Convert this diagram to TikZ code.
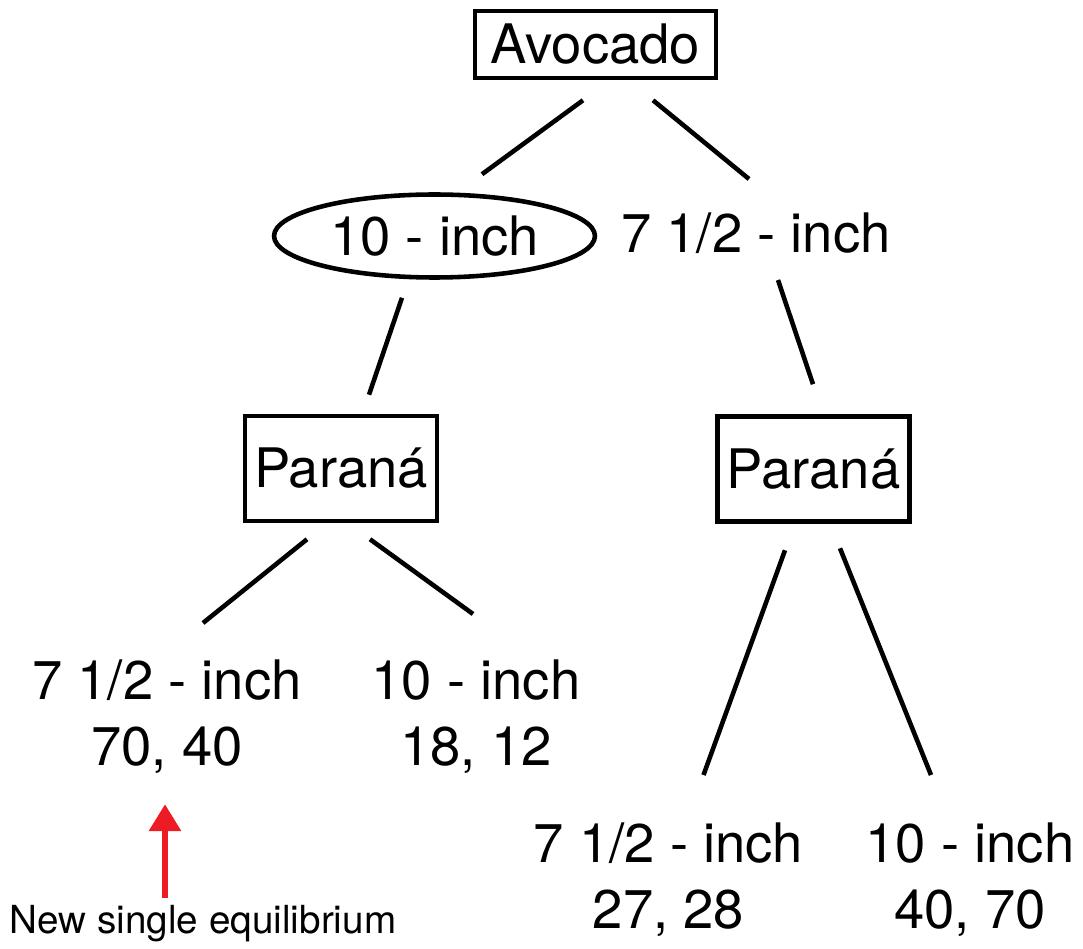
\documentclass[tikz,border=0pt]{standalone}
\usepackage{fontspec}
\setmainfont{TeX Gyre Heros}
\usetikzlibrary{shapes.geometric,arrows.meta,calc}
\definecolor{eqred}{RGB}{237,28,36}

\begin{document}
\begin{tikzpicture}[
            x=0.02cm, y=-0.02cm,
            font=\fontsize{31}{38}\selectfont,
            player/.style ={draw, line width=2.6pt, inner sep=0pt,
                            minimum width=3.84cm, minimum height=2.1cm},
            choice/.style ={ellipse, draw, line width=2.6pt, inner sep=0pt,
                            minimum width=6.42cm, minimum height=1.66cm},
            leaf/.style   ={align=center, inner sep=0pt, anchor=north},
            branch/.style ={line width=2.6pt},
            eqarrow/.style={-{Triangle[width=0.62cm,length=0.54cm]}, eqred, line width=0.13cm}
        ]
            \useasboundingbox (0,0) rectangle (1083,949);

            %-----------------  Primer jugador  --------------------
            \node[player, minimum width=4.82cm, minimum height=1.34cm] (avo) at (595.5,44.5) {Avocado};
            \node[choice] (ten) at (434.5,236) {10 - inch};
            \node[anchor=base, inner sep=0pt] (sevenR) at (756,253) {7 1/2 - inch};

            \draw[branch] ($(avo.south)+(-12.5,20)$) -- ($(ten.north)+(47.5,-18)$);
            \draw[branch] ($(avo.south)+(57.5,20)$) -- ($(sevenR.base)+(-7,-74)$);

            %-----------------  Segundo jugador  -------------------
            \node[player] (parL) at (341,468.5) {Paraná};
            \node[player] (parR) at (813.5,469) {Paraná};

            \draw[branch] ($(ten.south)+(-32.5,18)$) -- ($(parL.north)+(28,-19)$);
            \draw[branch] ($(sevenR.base)+(22,27)$) -- ($(parR.north)+(-0.5,-30)$);

            %-----------------  Pagos  -----------------------------
            \node[leaf] (leafLL) at (167,659) {7 1/2 - inch\\70, 40};
            \node[leaf] (leafLR) at (476,659) {10 - inch\\18, 12};
            \node[leaf] (leafRL) at (668.5,822) {7 1/2 - inch\\27, 28};
            \node[leaf] (leafRR) at (970,822) {10 - inch\\40, 70};

            \draw[branch] ($(parL.south)+(-34,16)$) -- ($(leafLL.north)+(36,-36)$);
            \draw[branch] ($(parL.south)+(29,16)$) -- ($(leafLR.north)+(-3,-45)$);
            \draw[branch] ($(parR.south)+(-28.5,26.5)$) -- ($(leafRL.north)+(35,-47)$);
            \draw[branch] ($(parR.south)+(26.5,24.5)$) -- ($(leafRR.north)+(-39,-47)$);

            %-----------------  Equilibrio  ------------------------
            \node[anchor=base, inner sep=0pt, font=\fontsize{22}{26}\selectfont] (eq) at (203,933) {New single equilibrium};
            \draw[eqarrow] ($(eq.north)+(-38,-6.5)$) -- ($(leafLL.south)+(-2,30)$);
        \end{tikzpicture}
\end{document}
